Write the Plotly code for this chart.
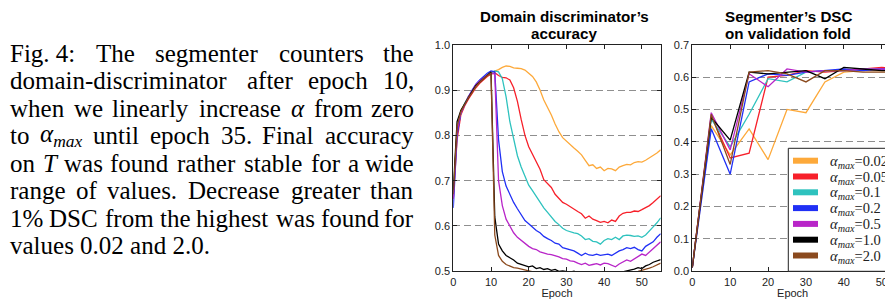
import plotly.graph_objects as go

# page body has an 8px margin: the figure is drawn from (8, 8) to (893, 300)
OFF = 8
W, H = 893 - OFF, 300 - OFF

# ---------------- data ----------------
alpha_labels = ["0.02", "0.05", "0.1", "0.2", "0.5", "1.0", "2.0"]
colors = ["#FDA93A", "#F7202A", "#2EC2BE", "#2030F5", "#B825C8", "#000000", "#8B4A1E"]

epochs_acc = list(range(56))
acc_002 = [0.67, 0.81, 0.855, 0.87, 0.885, 0.895, 0.91, 0.918, 0.925, 0.932, 0.937, 0.942, 0.945, 0.95,
           0.953, 0.952, 0.949, 0.948, 0.947, 0.944, 0.938, 0.93, 0.918, 0.9, 0.878, 0.862, 0.845, 0.825,
           0.808, 0.795, 0.787, 0.778, 0.772, 0.765, 0.757, 0.745, 0.733, 0.735, 0.727, 0.73, 0.722, 0.727,
           0.726, 0.722, 0.73, 0.733, 0.736, 0.735, 0.74, 0.742, 0.741, 0.745, 0.75, 0.755, 0.761, 0.768]
acc_005 = [0.66, 0.79, 0.845, 0.865, 0.88, 0.893, 0.905, 0.915, 0.923, 0.93, 0.935, 0.938, 0.932, 0.928,
           0.927, 0.922, 0.905, 0.875, 0.835, 0.8, 0.775, 0.758, 0.742, 0.725, 0.702, 0.693, 0.685, 0.67,
           0.66, 0.652, 0.648, 0.642, 0.636, 0.632, 0.627, 0.617, 0.622, 0.615, 0.612, 0.608, 0.61, 0.607,
           0.613, 0.61, 0.622, 0.628, 0.63, 0.63, 0.633, 0.632, 0.636, 0.64, 0.645, 0.652, 0.66, 0.667]
acc_01 = [0.67, 0.81, 0.85, 0.87, 0.885, 0.897, 0.91, 0.92, 0.927, 0.933, 0.938, 0.942, 0.94, 0.925,
          0.885, 0.83, 0.79, 0.755, 0.73, 0.708, 0.69, 0.678, 0.665, 0.652, 0.64, 0.63, 0.62, 0.61,
          0.603, 0.595, 0.59, 0.587, 0.585, 0.583, 0.578, 0.57, 0.572, 0.566, 0.565, 0.56, 0.568, 0.572,
          0.57, 0.575, 0.57, 0.578, 0.58, 0.579, 0.577, 0.578, 0.575, 0.58, 0.59, 0.598, 0.607, 0.618]
acc_02 = [0.64, 0.8, 0.85, 0.868, 0.885, 0.9, 0.913, 0.922, 0.93, 0.937, 0.942, 0.94, 0.79, 0.72,
          0.688, 0.67, 0.652, 0.638, 0.625, 0.612, 0.605, 0.597, 0.59, 0.585, 0.577, 0.572, 0.568, 0.562,
          0.56, 0.552, 0.55, 0.548, 0.545, 0.54, 0.535, 0.54, 0.536, 0.535, 0.538, 0.535, 0.536, 0.538,
          0.535, 0.54, 0.545, 0.548, 0.552, 0.55, 0.553, 0.548, 0.545, 0.555, 0.56, 0.565, 0.575, 0.583]
acc_05 = [0.66, 0.81, 0.85, 0.868, 0.885, 0.898, 0.912, 0.92, 0.927, 0.933, 0.938, 0.935, 0.70, 0.645,
          0.615, 0.6, 0.585, 0.575, 0.568, 0.56, 0.555, 0.55, 0.548, 0.543, 0.54, 0.538, 0.537, 0.535,
          0.532, 0.528, 0.527, 0.523, 0.522, 0.518, 0.515, 0.518, 0.513, 0.515, 0.517, 0.514, 0.518, 0.517,
          0.513, 0.51, 0.516, 0.52, 0.525, 0.522, 0.528, 0.532, 0.538, 0.535, 0.542, 0.55, 0.557, 0.565]
acc_10 = [0.68, 0.83, 0.855, 0.87, 0.885, 0.897, 0.91, 0.918, 0.925, 0.932, 0.94, 0.62, 0.56, 0.545,
          0.535, 0.53, 0.525, 0.518, 0.515, 0.513, 0.51, 0.512, 0.506, 0.508, 0.504, 0.506, 0.502, 0.504,
          0.5, 0.501, 0.5, 0.498, 0.5, 0.497, 0.499, 0.497, 0.498, 0.496, 0.498, 0.497, 0.499, 0.496,
          0.497, 0.498, 0.497, 0.499, 0.5, 0.503, 0.505, 0.508, 0.506, 0.512, 0.515, 0.52, 0.523, 0.526]
acc_20 = [0.67, 0.82, 0.852, 0.868, 0.883, 0.895, 0.908, 0.917, 0.925, 0.932, 0.937, 0.58, 0.535, 0.522,
          0.515, 0.512, 0.508, 0.507, 0.505, 0.503, 0.5, 0.498, 0.497, 0.495, 0.496, 0.494, 0.495, 0.493,
          0.494, 0.492, 0.493, 0.492, 0.493, 0.491, 0.492, 0.491, 0.492, 0.49, 0.491, 0.49, 0.491, 0.49,
          0.491, 0.492, 0.493, 0.494, 0.495, 0.496, 0.498, 0.5, 0.502, 0.505, 0.507, 0.51, 0.514, 0.518]

epochs_dsc = [0, 5, 10, 15, 20, 25, 30, 35, 40, 45, 50, 55]
dsc_002 = [0.012, 0.45, 0.36, 0.44, 0.345, 0.50, 0.49, 0.585, 0.615, 0.62, 0.62, 0.62]
dsc_005 = [0.012, 0.48, 0.35, 0.365, 0.60, 0.605, 0.62, 0.615, 0.62, 0.625, 0.63, 0.625]
dsc_01 = [0.012, 0.47, 0.385, 0.485, 0.595, 0.585, 0.615, 0.62, 0.62, 0.625, 0.625, 0.625]
dsc_02 = [0.012, 0.44, 0.30, 0.585, 0.61, 0.605, 0.615, 0.62, 0.625, 0.62, 0.625, 0.625]
dsc_05 = [0.012, 0.49, 0.375, 0.61, 0.57, 0.625, 0.615, 0.62, 0.62, 0.625, 0.625, 0.625]
dsc_10 = [0.012, 0.475, 0.405, 0.615, 0.61, 0.615, 0.62, 0.595, 0.63, 0.625, 0.62, 0.62]
dsc_20 = [0.012, 0.485, 0.33, 0.615, 0.62, 0.61, 0.585, 0.62, 0.62, 0.615, 0.615, 0.615]

acc_series = [acc_002, acc_005, acc_01, acc_02, acc_05, acc_10, acc_20]
dsc_series = [dsc_002, dsc_005, dsc_01, dsc_02, dsc_05, dsc_10, dsc_20]

acc_ticks = [0.5, 0.6, 0.7, 0.8, 0.9, 1.0]
dsc_ticks = [0.0, 0.1, 0.2, 0.3, 0.4, 0.5, 0.6, 0.7]
epoch_ticks = [0, 10, 20, 30, 40, 50]

left_title = ["Domain discriminator’s", "accuracy"]
right_title = ["Segmenter’s DSC", "on validation fold"]

# caption text: justified lines (lists of words) and a last, left-aligned line
ALPHA = "<i>α</i>"
ALPHA_MAX = "<i>α</i><sub><i>max</i></sub>"
T_IT = "<i>T</i>"
caption_lines = [
    ["Fig. 4:", "The", "segmenter", "counters", "the"],
    ["domain-discriminator", "after", "epoch", "10,"],
    ["when", "we", "linearly", "increase", ALPHA, "from", "zero"],
    ["to", ALPHA_MAX, "until", "epoch", "35.", "Final", "accuracy"],
    ["on", T_IT, "was", "found", "rather", "stable", "for", "a", "wide"],
    ["range", "of", "values.", "Decrease", "greater", "than"],
    ["1%", "DSC", "from", "the", "highest", "was", "found", "for"],
]
caption_last = "values 0.02 and 2.0."

# approximate advance widths of the serif font (per 1000 em) used to justify the lines
_cw = {" ": 250, "%": 833, ",": 250, "-": 333, ".": 250, ":": 278,
       "A": 722, "C": 667, "D": 722, "F": 556, "S": 556, "T": 611}
_cw.update({d: 500 for d in "0123456789"})
_cw.update(dict(zip("abcdefghijklmnopqrstuvwxyz",
                    [444, 500, 444, 500, 444, 333, 500, 500, 278, 278, 500, 278, 778, 500, 500,
                     500, 500, 333, 389, 278, 500, 500, 722, 500, 500, 444])))
_special = {ALPHA: 560, ALPHA_MAX: 560 + 0.7 * (722 + 500 + 444), T_IT: 556}

def word_width(w, size):
    if w in _special:
        return _special[w] * size / 1000
    return 1.025 * sum(_cw.get(c, 500) for c in w) * size / 1000

# ---------------- figure ----------------
fig = go.Figure()
for i in range(7):
    fig.add_trace(go.Scatter(x=epochs_acc, y=acc_series[i], mode="lines",
                             line=dict(color=colors[i], width=1.3), showlegend=False,
                             xaxis="x", yaxis="y"))
for i in range(7):
    fig.add_trace(go.Scatter(x=epochs_dsc, y=dsc_series[i], mode="lines",
                             line=dict(color=colors[i], width=1.3), showlegend=False,
                             xaxis="x2", yaxis="y2"))

def px_x(p):
    return (p - OFF) / W

def px_y(p):
    return 1 - (p - OFF) / H

ydom = [px_y(271.3), px_y(44.7)]
tickfont = dict(family="Liberation Sans, Arial", size=11, color="#222")
common_ax = dict(showline=True, linecolor="#222", linewidth=1, ticks="inside", ticklen=4,
                 tickcolor="#222", zeroline=False, tickfont=tickfont, automargin=False)
grid = dict(showgrid=True, gridcolor="#8f8f8f", griddash="7px,4px", gridwidth=1)
epoch_title = dict(text="Epoch", font=dict(family="Liberation Sans, Arial", size=11, color="#222"),
                   standoff=1)

fig.update_layout(
    template="none",
    width=W, height=H, margin=dict(l=0, r=0, t=0, b=0, pad=0),
    paper_bgcolor="white", plot_bgcolor="white", showlegend=False,
    xaxis=dict(domain=[px_x(453.3), px_x(660.7)], range=[0, 55], tickvals=epoch_ticks,
               mirror="ticks", showgrid=False, anchor="y", title=epoch_title, **common_ax),
    yaxis=dict(domain=ydom, range=[0.5, 1.0], tickvals=acc_ticks, tickformat=".1f",
               mirror="ticks", anchor="x", **grid, **common_ax),
    xaxis2=dict(domain=[px_x(692.3), 1.0], range=[0, 52.97], tickvals=epoch_ticks,
                mirror="ticks", showgrid=False, anchor="y2", title=epoch_title, **common_ax),
    yaxis2=dict(domain=ydom, range=[0.0, 0.7], tickvals=dsc_ticks, tickformat=".1f",
                mirror=False, anchor="x2", **grid, **common_ax),
)

annotations = []
title_font = dict(family="Liberation Sans, Arial", size=15.2, color="black")
for cx, lines in ((564, left_title), (788, right_title)):
    for k, t in enumerate(lines):
        annotations.append(dict(text="<b>" + t + "</b>", x=px_x(cx), y=px_y(16 + 17 * k),
                                xref="paper", yref="paper", showarrow=False, xanchor="center",
                                yanchor="middle", font=title_font))

CAP_SIZE = 25
cap_font = dict(family="Liberation Serif, Times New Roman", size=CAP_SIZE, color="black")
cap_left, cap_right = 9, 415
line_y0, line_dy = 51, 27.5
for li, words in enumerate(caption_lines):
    yy = px_y(line_y0 + li * line_dy + 2)
    widths = [word_width(w, CAP_SIZE) for w in words]
    gap = (cap_right - cap_left - sum(widths)) / (len(words) - 1)
    xpos = cap_left
    for wi, w in enumerate(words):
        if wi < len(words) - 1:
            annotations.append(dict(text=w, x=px_x(xpos - 1), y=yy, xref="paper", yref="paper",
                                    showarrow=False, xanchor="left", yanchor="middle", font=cap_font))
        else:
            annotations.append(dict(text=w, x=px_x(cap_right + 1), y=yy, xref="paper", yref="paper",
                                    showarrow=False, xanchor="right", yanchor="middle", font=cap_font))
        xpos += widths[wi] + gap
annotations.append(dict(text=caption_last, x=px_x(cap_left - 1), y=px_y(line_y0 + 7 * line_dy + 2),
                        xref="paper", yref="paper", showarrow=False, xanchor="left", yanchor="middle",
                        font=cap_font))

# legend (manual, lower right of right panel)
shapes = [dict(type="rect", xref="paper", yref="paper", x0=px_x(788.3), x1=px_x(905),
               y0=px_y(271.3), y1=px_y(148.3), line=dict(color="#222", width=1), fillcolor="white")]
leg_font = dict(family="Liberation Serif, Times New Roman", size=14.5, color="#222")
for i in range(7):
    yc = 160.7 + 15.8 * i
    shapes.append(dict(type="line", xref="paper", yref="paper", x0=px_x(793), x1=px_x(818),
                       y0=px_y(yc), y1=px_y(yc), line=dict(color=colors[i], width=6)))
    annotations.append(dict(text="<i>α</i><sub><i>max</i></sub>=" + alpha_labels[i],
                            x=px_x(828), y=px_y(yc + 1), xref="paper", yref="paper", showarrow=False,
                            xanchor="left", yanchor="middle", font=leg_font))

fig.update_layout(annotations=annotations, shapes=shapes)
fig.write_html("out.html")
